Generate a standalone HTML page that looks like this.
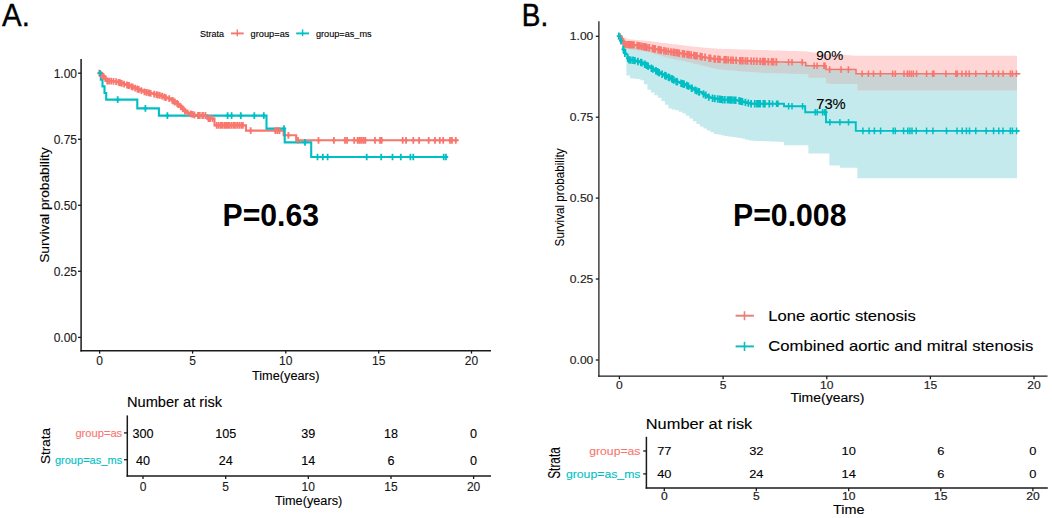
<!DOCTYPE html>
<html><head><meta charset="utf-8"><style>
html,body{margin:0;padding:0;background:#fff;width:1052px;height:518px;overflow:hidden}
svg{display:block}
text{font-family:"Liberation Sans", sans-serif}
</style></head><body>
<svg width="1052" height="518" viewBox="0 0 1052 518">
<rect width="1052" height="518" fill="#fff"/>
<text transform="translate(2.0,25.9) scale(0.95,1)" font-size="31" text-anchor="start" fill="#000" stroke="#000" stroke-width="0.35">A.</text>
<text x="200" y="36.9" font-size="9.3" text-anchor="start" fill="#000" stroke="#000" stroke-width="0.12" textLength="24" lengthAdjust="spacingAndGlyphs">Strata</text>
<path d="M231,33.4H243.7" stroke="#F8766D" stroke-width="1.9" fill="none" />
<path d="M237.3,29.4V36.2" stroke="#F8766D" stroke-width="1.4" fill="none" />
<text x="250.6" y="36.9" font-size="9.3" text-anchor="start" fill="#000" stroke="#000" stroke-width="0.12" textLength="38.8" lengthAdjust="spacingAndGlyphs">group=as</text>
<path d="M296.2,33.4H309" stroke="#00BFC4" stroke-width="1.9" fill="none" />
<path d="M302.6,29.4V36.2" stroke="#00BFC4" stroke-width="1.4" fill="none" />
<text x="315.9" y="36.9" font-size="9.3" text-anchor="start" fill="#000" stroke="#000" stroke-width="0.12" textLength="55.8" lengthAdjust="spacingAndGlyphs">group=as_ms</text>
<line x1="81.1" y1="59" x2="81.1" y2="351.4" stroke="#1a1a1a" stroke-width="1.5"/>
<line x1="80.4" y1="350.7" x2="491" y2="350.7" stroke="#1a1a1a" stroke-width="1.5"/>
<line x1="78.0" y1="73.2" x2="81.1" y2="73.2" stroke="#1a1a1a" stroke-width="1.3"/>
<text x="77.0" y="77.60000000000001" font-size="12" text-anchor="end" fill="#1a1a1a" stroke="#1a1a1a" stroke-width="0.12">1.00</text>
<line x1="78.0" y1="139.3" x2="81.1" y2="139.3" stroke="#1a1a1a" stroke-width="1.3"/>
<text x="77.0" y="143.70000000000002" font-size="12" text-anchor="end" fill="#1a1a1a" stroke="#1a1a1a" stroke-width="0.12">0.75</text>
<line x1="78.0" y1="205.3" x2="81.1" y2="205.3" stroke="#1a1a1a" stroke-width="1.3"/>
<text x="77.0" y="209.70000000000002" font-size="12" text-anchor="end" fill="#1a1a1a" stroke="#1a1a1a" stroke-width="0.12">0.50</text>
<line x1="78.0" y1="271.3" x2="81.1" y2="271.3" stroke="#1a1a1a" stroke-width="1.3"/>
<text x="77.0" y="275.7" font-size="12" text-anchor="end" fill="#1a1a1a" stroke="#1a1a1a" stroke-width="0.12">0.25</text>
<line x1="78.0" y1="337.4" x2="81.1" y2="337.4" stroke="#1a1a1a" stroke-width="1.3"/>
<text x="77.0" y="341.79999999999995" font-size="12" text-anchor="end" fill="#1a1a1a" stroke="#1a1a1a" stroke-width="0.12">0.00</text>
<line x1="99.6" y1="350.7" x2="99.6" y2="353.6" stroke="#1a1a1a" stroke-width="1.3"/>
<text x="99.6" y="364.7" font-size="12" text-anchor="middle" fill="#1a1a1a" stroke="#1a1a1a" stroke-width="0.12">0</text>
<line x1="192.6" y1="350.7" x2="192.6" y2="353.6" stroke="#1a1a1a" stroke-width="1.3"/>
<text x="192.6" y="364.7" font-size="12" text-anchor="middle" fill="#1a1a1a" stroke="#1a1a1a" stroke-width="0.12">5</text>
<line x1="285.8" y1="350.7" x2="285.8" y2="353.6" stroke="#1a1a1a" stroke-width="1.3"/>
<text x="285.8" y="364.7" font-size="12" text-anchor="middle" fill="#1a1a1a" stroke="#1a1a1a" stroke-width="0.12">10</text>
<line x1="378.7" y1="350.7" x2="378.7" y2="353.6" stroke="#1a1a1a" stroke-width="1.3"/>
<text x="378.7" y="364.7" font-size="12" text-anchor="middle" fill="#1a1a1a" stroke="#1a1a1a" stroke-width="0.12">15</text>
<line x1="471.5" y1="350.7" x2="471.5" y2="353.6" stroke="#1a1a1a" stroke-width="1.3"/>
<text x="471.5" y="364.7" font-size="12" text-anchor="middle" fill="#1a1a1a" stroke="#1a1a1a" stroke-width="0.12">20</text>
<text x="285.7" y="380.4" font-size="12.5" text-anchor="middle" fill="#000" stroke="#000" stroke-width="0.12" textLength="67.6" lengthAdjust="spacingAndGlyphs">Time(years)</text>
<text transform="translate(49.4,205.1) rotate(-90)" font-size="13.5" text-anchor="middle" fill="#000" stroke="#000" stroke-width="0.12" textLength="115.5" lengthAdjust="spacingAndGlyphs">Survival probability</text>
<text x="222.5" y="225.9" font-size="31.5" text-anchor="start" fill="#000" font-weight="bold" textLength="96.5" lengthAdjust="spacingAndGlyphs">P=0.63</text>
<path d="M99.6,73.2H101.6V74.9H103.6V76.7H105.6V79.1H107.6V81H109.6V81.1H111.6V81.3H113.6V81.4H115.6V81.5H117.6V82H119.6V82.7H121.6V83.3H123.6V83.9H125.6V84.6H127.6V85.2H129.6V85.9H131.6V86.6H133.6V87.4H135.6V88.2H137.6V89H139.6V89.8H141.6V90.6H143.6V91.4H145.6V92.1H147.6V92.6H149.6V93.1H151.6V93.5H153.6V94H155.6V94.5H157.6V94.9H159.6V95.4H161.6V96.1H163.6V96.8H165.6V97.5H167.6V98.2H169.6V98.9H171.6V100H173.6V101.2H175.6V102.4H177.6V103.9H179.6V105.7H181.6V107.6H183.6V109.8H185.6V112H187.6V112.9H189.6V113.5H191.6V114.1H193.6V114.8H195.6V115.4H197.6V115.5H199.6H201.6H203.6H205.6H207.3H207.3V118.6H214.5V125.4H246V130.6H283.6V135.3H296.2V140.3H458.7" stroke="#F8766D" stroke-width="2.1" fill="none" />
<path d="M99.6,73.2H100.8V79.8H102.5V86.4H104.5V93.0H106.2V99.6H137.3V108.4H158.9V115.6H266.5V128.6H284.7V142.4H311.2V157.0H446.6" stroke="#00BFC4" stroke-width="2.1" fill="none" />
<path d="M99.3,69.8V76.6M97.3,73.2H101.3M101.2,71.2V78M99.2,74.6H103.2M102.3,72.1V78.9M100.3,75.5H104.3M103.3,73V79.8M101.3,76.4H105.3M105.3,75.3V82.1M103.3,78.7H107.3M107.2,77.6V84.4M105.2,81H109.2M109.1,77.7V84.5M107.1,81.1H111.1M111.2,77.8V84.6M109.2,81.2H113.2M113.5,78V84.8M111.5,81.4H115.5M116.2,78.2V85M114.2,81.6H118.2M118.6,78.9V85.7M116.6,82.3H120.6M119.7,79.3V86.1M117.7,82.7H121.7M120.2,79.4V86.2M118.2,82.8H122.2M121.8,80V86.8M119.8,83.4H123.8M124.1,80.7V87.5M122.1,84.1H126.1M127,81.6V88.4M125,85H129M128.6,82.1V88.9M126.6,85.5H130.6M129.1,82.3V89.1M127.1,85.7H131.1M131.5,83.2V90M129.5,86.6H133.5M132.8,83.7V90.5M130.8,87.1H134.8M135.2,84.7V91.5M133.2,88.1H137.2M137.4,85.6V92.4M135.4,89H139.4M138.8,86.1V92.9M136.8,89.5H140.8M141.4,87.2V94M139.4,90.6H143.4M144.4,88.4V95.2M142.4,91.8H146.4M146.4,88.9V95.7M144.4,92.3H148.4M146.9,89V95.8M144.9,92.4H148.9M148.9,89.5V96.3M146.9,92.9H150.9M150.7,89.9V96.7M148.7,93.3H152.7M154.1,90.7V97.5M152.1,94.1H156.1M156.4,91.3V98.1M154.4,94.7H158.4M157.8,91.6V98.4M155.8,95H159.8M159.8,92V98.8M157.8,95.4H161.8M162.1,92.8V99.6M160.1,96.2H164.1M164.3,93.6V100.4M162.3,97H166.3M165.9,94.2V101M163.9,97.6H167.9M169.2,95.3V102.1M167.2,98.7H171.2M172.3,97V103.8M170.3,100.4H174.3M173.2,97.6V104.4M171.2,101H175.2M174.9,98.6V105.4M172.9,102H176.9M177.1,100V106.8M175.1,103.4H179.1M178.2,101.1V107.9M176.2,104.5H180.2M180.8,103.5V110.3M178.8,106.9H182.8M182.8,105.5V112.3M180.8,108.9H184.8M184.9,107.8V114.6M182.9,111.2H186.9M187.6,109.5V116.3M185.6,112.9H189.6M190.7,110.4V117.2M188.7,113.8H192.7M192.4,111V117.8M190.4,114.4H194.4M194.4,111.6V118.4M192.4,115H196.4M198,112.1V118.9M196,115.5H200M198.1,112.1V118.9M196.1,115.5H200.1M199.8,112.1V118.9M197.8,115.5H201.8M202.3,112.1V118.9M200.3,115.5H204.3M203,112.1V118.9M201,115.5H205M205.4,112.1V118.9M203.4,115.5H207.4M208.4,115.2V122M206.4,118.6H210.4M210.1,115.2V122M208.1,118.6H212.1M212.5,115.2V122M210.5,118.6H214.5M216.7,122V128.8M214.7,125.4H218.7M218.8,122V128.8M216.8,125.4H220.8M220.9,122V128.8M218.9,125.4H222.9M222.5,122V128.8M220.5,125.4H224.5M224.6,122V128.8M222.6,125.4H226.6M226.1,122V128.8M224.1,125.4H228.1M227.7,122V128.8M225.7,125.4H229.7M229.3,122V128.8M227.3,125.4H231.3M231.4,122V128.8M229.4,125.4H233.4M233.5,122V128.8M231.5,125.4H235.5M235,122V128.8M233,125.4H237M237.1,122V128.8M235.1,125.4H239.1M239.2,122V128.8M237.2,125.4H241.2M241.3,122V128.8M239.3,125.4H243.3M242.9,122V128.8M240.9,125.4H244.9M250.7,127.2V134M248.7,130.6H252.7M275.3,127.2V134M273.3,130.6H277.3M277.4,127.2V134M275.4,130.6H279.4M279.5,127.2V134M277.5,130.6H281.5M288.4,131.9V138.7M286.4,135.3H290.4M298,136.9V143.7M296,140.3H300M318.5,136.9V143.7M316.5,140.3H320.5M333.9,136.9V143.7M331.9,140.3H335.9M345,136.9V143.7M343,140.3H347M347,136.9V143.7M345,140.3H349M354.2,136.9V143.7M352.2,140.3H356.2M357.6,136.9V143.7M355.6,140.3H359.6M359.5,136.9V143.7M357.5,140.3H361.5M361.4,136.9V143.7M359.4,140.3H363.4M363.4,136.9V143.7M361.4,140.3H365.4M365.3,136.9V143.7M363.3,140.3H367.3M375,136.9V143.7M373,140.3H377M380,136.9V143.7M378,140.3H382M381.7,136.9V143.7M379.7,140.3H383.7M402.7,136.9V143.7M400.7,140.3H404.7M406,136.9V143.7M404,140.3H408M413.3,136.9V143.7M411.3,140.3H415.3M419.1,136.9V143.7M417.1,140.3H421.1M428.7,136.9V143.7M426.7,140.3H430.7M435,136.9V143.7M433,140.3H437M439.8,136.9V143.7M437.8,140.3H441.8M443.2,136.9V143.7M441.2,140.3H445.2M450,136.9V143.7M448,140.3H452M452,136.9V143.7M450,140.3H454M455.8,136.9V143.7M453.8,140.3H457.8" stroke="#F8766D" stroke-width="1.8" fill="none" />
<path d="M100,69.9V76.5M97.8,73.2H102.2M117.7,96.3V102.9M115.5,99.6H119.9M145.4,105.1V111.7M143.2,108.4H147.6M167.4,112.3V118.9M165.2,115.6H169.6M227.6,112.3V118.9M225.4,115.6H229.8M231.6,112.3V118.9M229.4,115.6H233.8M240.8,112.3V118.9M238.6,115.6H243M254.3,112.3V118.9M252.1,115.6H256.5M263.8,112.3V118.9M261.6,115.6H266M284,125.3V131.9M281.8,128.6H286.2M305,139.1V145.7M302.8,142.4H307.2M317.5,153.7V160.3M315.3,157H319.7M322.8,153.7V160.3M320.6,157H325M327.6,153.7V160.3M325.4,157H329.8M366.7,153.7V160.3M364.5,157H368.9M381.2,153.7V160.3M379,157H383.4M392.5,153.7V160.3M390.3,157H394.7M400.8,153.7V160.3M398.6,157H403M410.4,153.7V160.3M408.2,157H412.6M413.3,153.7V160.3M411.1,157H415.5M443.7,153.7V160.3M441.5,157H445.9M446,153.7V160.3M443.8,157H448.2" stroke="#00BFC4" stroke-width="1.8" fill="none" />
<text x="127.0" y="406.8" font-size="14.5" text-anchor="start" fill="#000" stroke="#000" stroke-width="0.12" textLength="95" lengthAdjust="spacingAndGlyphs">Number at risk</text>
<line x1="127.3" y1="415.4" x2="127.3" y2="476.7" stroke="#1a1a1a" stroke-width="1.5"/>
<line x1="126.6" y1="476" x2="491" y2="476" stroke="#1a1a1a" stroke-width="1.5"/>
<line x1="124.0" y1="432.9" x2="127.3" y2="432.9" stroke="#1a1a1a" stroke-width="1.3"/>
<line x1="124.0" y1="459.7" x2="127.3" y2="459.7" stroke="#1a1a1a" stroke-width="1.3"/>
<text x="122.2" y="436.9" font-size="11" text-anchor="end" fill="#F8766D" stroke="#F8766D" stroke-width="0.12" textLength="46.8" lengthAdjust="spacingAndGlyphs">group=as</text>
<text x="122.2" y="463.7" font-size="11" text-anchor="end" fill="#00BFC4" stroke="#00BFC4" stroke-width="0.12" textLength="67.3" lengthAdjust="spacingAndGlyphs">group=as_ms</text>
<text transform="translate(49.6,446.1) rotate(-90)" font-size="13.5" text-anchor="middle" fill="#000" stroke="#000" stroke-width="0.12" textLength="36" lengthAdjust="spacingAndGlyphs">Strata</text>
<text x="143" y="437.9" font-size="12.6" text-anchor="middle" fill="#000" stroke="#000" stroke-width="0.12">300</text>
<text x="143" y="464.9" font-size="12.6" text-anchor="middle" fill="#000" stroke="#000" stroke-width="0.12">40</text>
<line x1="143" y1="476" x2="143" y2="479" stroke="#1a1a1a" stroke-width="1.3"/>
<text x="143" y="490.6" font-size="12" text-anchor="middle" fill="#1a1a1a" stroke="#1a1a1a" stroke-width="0.12">0</text>
<text x="225.7" y="437.9" font-size="12.6" text-anchor="middle" fill="#000" stroke="#000" stroke-width="0.12">105</text>
<text x="225.7" y="464.9" font-size="12.6" text-anchor="middle" fill="#000" stroke="#000" stroke-width="0.12">24</text>
<line x1="225.7" y1="476" x2="225.7" y2="479" stroke="#1a1a1a" stroke-width="1.3"/>
<text x="225.7" y="490.6" font-size="12" text-anchor="middle" fill="#1a1a1a" stroke="#1a1a1a" stroke-width="0.12">5</text>
<text x="308.3" y="437.9" font-size="12.6" text-anchor="middle" fill="#000" stroke="#000" stroke-width="0.12">39</text>
<text x="308.3" y="464.9" font-size="12.6" text-anchor="middle" fill="#000" stroke="#000" stroke-width="0.12">14</text>
<line x1="308.3" y1="476" x2="308.3" y2="479" stroke="#1a1a1a" stroke-width="1.3"/>
<text x="308.3" y="490.6" font-size="12" text-anchor="middle" fill="#1a1a1a" stroke="#1a1a1a" stroke-width="0.12">10</text>
<text x="391" y="437.9" font-size="12.6" text-anchor="middle" fill="#000" stroke="#000" stroke-width="0.12">18</text>
<text x="391" y="464.9" font-size="12.6" text-anchor="middle" fill="#000" stroke="#000" stroke-width="0.12">6</text>
<line x1="391" y1="476" x2="391" y2="479" stroke="#1a1a1a" stroke-width="1.3"/>
<text x="391" y="490.6" font-size="12" text-anchor="middle" fill="#1a1a1a" stroke="#1a1a1a" stroke-width="0.12">15</text>
<text x="473.6" y="437.9" font-size="12.6" text-anchor="middle" fill="#000" stroke="#000" stroke-width="0.12">0</text>
<text x="473.6" y="464.9" font-size="12.6" text-anchor="middle" fill="#000" stroke="#000" stroke-width="0.12">0</text>
<line x1="473.6" y1="476" x2="473.6" y2="479" stroke="#1a1a1a" stroke-width="1.3"/>
<text x="473.6" y="490.6" font-size="12" text-anchor="middle" fill="#1a1a1a" stroke="#1a1a1a" stroke-width="0.12">20</text>
<text x="308.6" y="505.4" font-size="12.5" text-anchor="middle" fill="#000" stroke="#000" stroke-width="0.12" textLength="67.4" lengthAdjust="spacingAndGlyphs">Time(years)</text>
<text transform="translate(521.8,25.9) scale(0.9,1)" font-size="31" text-anchor="start" fill="#000" stroke="#000" stroke-width="0.5">B.</text>
<path d="M619.4,36.8L622.4,36.8L622.4,41.4L625.4,41.4L625.4,45.3L628.4,45.3L628.4,45.5L631.4,45.5L631.4,45.6L634.4,45.6L634.4,45.8L637.4,45.8L637.4,46.2L640.4,46.2L640.4,46.8L643.4,46.8L643.4,47.5L646.4,47.5L646.4,48.1L649.4,48.1L649.4,48.7L652.4,48.7L652.4,49.3L655.4,49.3L655.4,49.9L658.4,49.9L658.4,50.5L661.4,50.5L661.4,51.1L664.4,51.1L664.4,51.6L667.4,51.6L667.4,52.1L670.4,52.1L670.4,52.6L673.4,52.6L673.4,53.1L676.4,53.1L676.4,53.6L679.4,53.6L679.4,54L682.4,54L682.4,54.5L685.4,54.5L685.4,54.9L688.4,54.9L688.4,55.4L691.4,55.4L691.4,55.8L694.4,55.8L694.4,56.3L697.4,56.3L697.4,56.8L700.4,56.8L700.4,57.3L703.4,57.3L703.4,57.8L706.4,57.8L706.4,58.4L709.4,58.4L709.4,58.9L712.4,58.9L712.4,59.4L715.4,59.4L715.4,59.9L718.4,59.9L718.4,60.1L721.4,60.1L721.4,60.3L724.4,60.3L724.4,60.5L727.4,60.5L727.4,60.7L730.4,60.7L730.4,60.9L733.4,60.9L733.4,61.1L736.4,61.1L736.4,61.3L739.4,61.3L739.4,61.5L742.4,61.5L742.4,61.6L745.4,61.6L745.4,61.7L748.4,61.7L748.4,61.8L751.4,61.8L751.4,61.9L754.4,61.9L754.4,62L757.4,62L757.4,62.1L760.4,62.1L760.4,62.2L763.4,62.2L763.4,62.3L766.4,62.3L766.4,62.4L769.4,62.4L769.4,62.5L772.4,62.5L772.4,62.6L775.4,62.6L775.4,62.7L778.4,62.7L778.4,62.9L781.4,62.9L781.4,62.9L784.4,62.9L784.4,63L787.4,63L787.4,63L790.4,63L790.4,63L793.4,63L793.4,63.1L796.4,63.1L796.4,63.1L799.4,63.1L799.4,63.1L802.4,63.1L802.4,63.2L805.4,63.2L805.4,63.2L808.4,63.2L808.4,66.6L811.4,66.6L811.4,66.6L814.4,66.6L814.4,66.6L817.4,66.6L817.4,66.6L820.4,66.6L820.4,66.6L823.4,66.6L823.4,66.6L826.4,66.6L826.4,70.4L829.4,70.4L829.4,70.4L832.4,70.4L832.4,70.4L835.4,70.4L835.4,70.4L838.4,70.4L838.4,70.4L841.4,70.4L841.4,70.4L844.4,70.4L844.4,70.4L847.4,70.4L847.4,70.4L850.4,70.4L850.4,70.4L853.4,70.4L853.4,70.4L856.4,70.4L856.4,74.5L859.4,74.5L859.4,74.5L862.4,74.5L862.4,74.5L865.4,74.5L865.4,74.5L868.4,74.5L868.4,74.5L871.4,74.5L871.4,74.5L874.4,74.5L874.4,74.5L877.4,74.5L877.4,74.5L880.4,74.5L880.4,74.5L883.4,74.5L883.4,74.5L886.4,74.5L886.4,74.5L889.4,74.5L889.4,74.5L892.4,74.5L892.4,74.5L895.4,74.5L895.4,74.5L898.4,74.5L898.4,74.5L901.4,74.5L901.4,74.5L904.4,74.5L904.4,74.5L907.4,74.5L907.4,74.5L910.4,74.5L910.4,74.5L913.4,74.5L913.4,74.5L916.4,74.5L916.4,74.5L919.4,74.5L919.4,74.5L922.4,74.5L922.4,74.5L925.4,74.5L925.4,74.5L928.4,74.5L928.4,74.5L931.4,74.5L931.4,74.5L934.4,74.5L934.4,74.5L937.4,74.5L937.4,74.5L940.4,74.5L940.4,74.5L943.4,74.5L943.4,74.5L946.4,74.5L946.4,74.5L949.4,74.5L949.4,74.5L952.4,74.5L952.4,74.5L955.4,74.5L955.4,74.5L958.4,74.5L958.4,74.5L961.4,74.5L961.4,74.5L964.4,74.5L964.4,74.5L967.4,74.5L967.4,74.5L970.4,74.5L970.4,74.5L973.4,74.5L973.4,74.5L976.4,74.5L976.4,74.5L979.4,74.5L979.4,74.5L982.4,74.5L982.4,74.5L985.4,74.5L985.4,74.5L988.4,74.5L988.4,74.5L991.4,74.5L991.4,74.5L994.4,74.5L994.4,74.5L997.4,74.5L997.4,74.5L1000.4,74.5L1000.4,74.5L1003.4,74.5L1003.4,74.5L1006.4,74.5L1006.4,74.5L1009.4,74.5L1009.4,74.5L1012.4,74.5L1012.4,74.5L1015.4,74.5L1015.4,74.5L1017,74.5L1017,74.4L1017,178.2L1017,178.2L1014.9,178.2L1014.9,178.2L1011.4,178.2L1011.4,178.2L1007.9,178.2L1007.9,178.2L1004.4,178.2L1004.4,178.2L1000.9,178.2L1000.9,178.2L997.4,178.2L997.4,178.2L993.9,178.2L993.9,178.2L990.4,178.2L990.4,178.2L986.9,178.2L986.9,178.2L983.4,178.2L983.4,178.2L979.9,178.2L979.9,178.2L976.4,178.2L976.4,178.2L972.9,178.2L972.9,178.2L969.4,178.2L969.4,178.2L965.9,178.2L965.9,178.2L962.4,178.2L962.4,178.2L958.9,178.2L958.9,178.2L955.4,178.2L955.4,178.2L951.9,178.2L951.9,178.2L948.4,178.2L948.4,178.2L944.9,178.2L944.9,178.2L941.4,178.2L941.4,178.2L937.9,178.2L937.9,178.2L934.4,178.2L934.4,178.2L930.9,178.2L930.9,178.2L927.4,178.2L927.4,178.2L923.9,178.2L923.9,178.2L920.4,178.2L920.4,178.2L916.9,178.2L916.9,178.2L913.4,178.2L913.4,178.2L909.9,178.2L909.9,178.2L906.4,178.2L906.4,178.2L902.9,178.2L902.9,178.2L899.4,178.2L899.4,178.2L895.9,178.2L895.9,178.2L892.4,178.2L892.4,178.2L888.9,178.2L888.9,178.2L885.4,178.2L885.4,178.2L881.9,178.2L881.9,178.2L878.4,178.2L878.4,178.2L874.9,178.2L874.9,178.2L871.4,178.2L871.4,178.2L867.9,178.2L867.9,178.2L864.4,178.2L864.4,178.2L860.9,178.2L860.9,178.2L857.4,178.2L857.4,167.8L853.9,167.8L853.9,167.8L850.4,167.8L850.4,167.8L846.9,167.8L846.9,167.8L843.4,167.8L843.4,167.8L839.9,167.8L839.9,165.6L836.4,165.6L836.4,165.6L832.9,165.6L832.9,165.6L829.4,165.6L829.4,153.5L825.9,153.5L825.9,153.5L822.4,153.5L822.4,153.5L818.9,153.5L818.9,153.5L815.4,153.5L815.4,153.5L811.9,153.5L811.9,153.5L808.4,153.5L808.4,145.3L804.9,145.3L804.9,145.3L801.4,145.3L801.4,145.3L797.9,145.3L797.9,145.3L794.4,145.3L794.4,145.3L790.9,145.3L790.9,145.3L787.4,145.3L787.4,145.3L783.9,145.3L783.9,141.9L780.4,141.9L780.4,141.7L776.9,141.7L776.9,141.6L773.4,141.6L773.4,141.5L769.9,141.5L769.9,141.3L766.4,141.3L766.4,141.2L762.9,141.2L762.9,141L759.4,141L759.4,140.9L755.9,140.9L755.9,140.8L752.4,140.8L752.4,140.6L748.9,140.6L748.9,139.7L745.4,139.7L745.4,138.7L741.9,138.7L741.9,137.9L738.4,137.9L738.4,137.4L734.9,137.4L734.9,136.9L731.4,136.9L731.4,136.5L727.9,136.5L727.9,136L724.4,136L724.4,135.3L720.9,135.3L720.9,134.6L717.4,134.6L717.4,133.9L713.9,133.9L713.9,132.2L710.4,132.2L710.4,130.4L706.9,130.4L706.9,128.5L703.4,128.5L703.4,126.4L699.9,126.4L699.9,123.9L696.4,123.9L696.4,121.3L692.9,121.3L692.9,118.6L689.4,118.6L689.4,115.8L685.9,115.8L685.9,113.6L682.4,113.6L682.4,111.8L678.9,111.8L678.9,110.2L675.4,110.2L675.4,109.4L671.9,109.4L671.9,108.5L668.4,108.5L668.4,104.7L664.9,104.7L664.9,101L661.4,101L661.4,97.8L657.9,97.8L657.9,95.2L654.4,95.2L654.4,92.5L650.9,92.5L650.9,89.8L647.4,89.8L647.4,84.3L643.9,84.3L643.9,80.2L640.4,80.2L640.4,79.1L636.9,79.1L636.9,78.8L633.4,78.8L633.4,78.2L629.9,78.2L629.9,75.6L626.4,75.6L626.4,44.6L622.9,44.6L622.9,36L619.4,36Z" stroke="none" stroke-width="1" fill="#C4EAEE" />
<path d="M619.4,36L622.9,36L622.9,37.8L626.4,37.8L626.4,39.3L629.9,39.3L629.9,39.6L633.4,39.6L633.4,39.9L636.9,39.9L636.9,40.2L640.4,40.2L640.4,40.5L643.9,40.5L643.9,40.8L647.4,40.8L647.4,41.1L650.9,41.1L650.9,41.6L654.4,41.6L654.4,42L657.9,42L657.9,42.5L661.4,42.5L661.4,42.9L664.9,42.9L664.9,43.3L668.4,43.3L668.4,43.8L671.9,43.8L671.9,44.2L675.4,44.2L675.4,44.6L678.9,44.6L678.9,45.1L682.4,45.1L682.4,45.5L685.9,45.5L685.9,45.9L689.4,45.9L689.4,46.3L692.9,46.3L692.9,46.7L696.4,46.7L696.4,47L699.9,47L699.9,47.4L703.4,47.4L703.4,47.7L706.9,47.7L706.9,48L710.4,48L710.4,48.3L713.9,48.3L713.9,48.5L717.4,48.5L717.4,48.8L720.9,48.8L720.9,48.9L724.4,48.9L724.4,49L727.9,49L727.9,49.1L731.4,49.1L731.4,49.2L734.9,49.2L734.9,49.3L738.4,49.3L738.4,49.4L741.9,49.4L741.9,49.5L745.4,49.5L745.4,49.6L748.9,49.6L748.9,49.7L752.4,49.7L752.4,49.8L755.9,49.8L755.9,49.9L759.4,49.9L759.4,50L762.9,50L762.9,50.1L766.4,50.1L766.4,50.2L769.9,50.2L769.9,50.4L773.4,50.4L773.4,50.5L776.9,50.5L776.9,50.6L780.4,50.6L780.4,50.7L783.9,50.7L783.9,50.8L787.4,50.8L787.4,50.9L790.9,50.9L790.9,51L794.4,51L794.4,51.1L797.9,51.1L797.9,51.2L801.4,51.2L801.4,51.3L804.9,51.3L804.9,51.4L808.4,51.4L808.4,51.9L811.9,51.9L811.9,52.5L815.4,52.5L815.4,53.1L818.9,53.1L818.9,53.6L822.4,53.6L822.4,53.8L825.9,53.8L825.9,54L829.4,54L829.4,54.2L832.9,54.2L832.9,54.4L836.4,54.4L836.4,54.6L839.9,54.6L839.9,54.8L843.4,54.8L843.4,55L846.9,55L846.9,55.2L850.4,55.2L850.4,55.5L853.9,55.5L853.9,55.7L857.4,55.7L857.4,55.8L860.9,55.8L860.9,55.8L864.4,55.8L864.4,55.8L867.9,55.8L867.9,55.8L871.4,55.8L871.4,55.8L874.9,55.8L874.9,55.8L878.4,55.8L878.4,55.8L881.9,55.8L881.9,55.8L885.4,55.8L885.4,55.8L888.9,55.8L888.9,55.8L892.4,55.8L892.4,55.8L895.9,55.8L895.9,55.8L899.4,55.8L899.4,55.8L902.9,55.8L902.9,55.8L906.4,55.8L906.4,55.8L909.9,55.8L909.9,55.8L913.4,55.8L913.4,55.8L916.9,55.8L916.9,55.8L920.4,55.8L920.4,55.8L923.9,55.8L923.9,55.8L927.4,55.8L927.4,55.8L930.9,55.8L930.9,55.8L934.4,55.8L934.4,55.8L937.9,55.8L937.9,55.8L941.4,55.8L941.4,55.8L944.9,55.8L944.9,55.8L948.4,55.8L948.4,55.8L951.9,55.8L951.9,55.8L955.4,55.8L955.4,55.8L958.9,55.8L958.9,55.8L962.4,55.8L962.4,55.8L965.9,55.8L965.9,55.8L969.4,55.8L969.4,55.8L972.9,55.8L972.9,55.8L976.4,55.8L976.4,55.8L979.9,55.8L979.9,55.8L983.4,55.8L983.4,55.8L986.9,55.8L986.9,55.8L990.4,55.8L990.4,55.8L993.9,55.8L993.9,55.8L997.4,55.8L997.4,55.8L1000.9,55.8L1000.9,55.8L1004.4,55.8L1004.4,55.8L1007.9,55.8L1007.9,55.8L1011.4,55.8L1011.4,55.8L1014.9,55.8L1014.9,55.8L1017,55.8L1017,55.8L1017,90.5L1017,90.5L1014.9,90.5L1014.9,90.5L1011.4,90.5L1011.4,90.5L1007.9,90.5L1007.9,90.5L1004.4,90.5L1004.4,90.5L1000.9,90.5L1000.9,90.5L997.4,90.5L997.4,90.5L993.9,90.5L993.9,90.5L990.4,90.5L990.4,90.5L986.9,90.5L986.9,90.5L983.4,90.5L983.4,90.5L979.9,90.5L979.9,90.5L976.4,90.5L976.4,90.5L972.9,90.5L972.9,90.5L969.4,90.5L969.4,90.5L965.9,90.5L965.9,90.5L962.4,90.5L962.4,90.5L958.9,90.5L958.9,90.5L955.4,90.5L955.4,90.5L951.9,90.5L951.9,90.5L948.4,90.5L948.4,90.5L944.9,90.5L944.9,90.5L941.4,90.5L941.4,90.5L937.9,90.5L937.9,90.5L934.4,90.5L934.4,90.5L930.9,90.5L930.9,90.5L927.4,90.5L927.4,90.5L923.9,90.5L923.9,90.5L920.4,90.5L920.4,90.5L916.9,90.5L916.9,90.5L913.4,90.5L913.4,90.5L909.9,90.5L909.9,90.5L906.4,90.5L906.4,90.5L902.9,90.5L902.9,90.5L899.4,90.5L899.4,90.5L895.9,90.5L895.9,90.5L892.4,90.5L892.4,90.5L888.9,90.5L888.9,90.5L885.4,90.5L885.4,90.5L881.9,90.5L881.9,90.5L878.4,90.5L878.4,90.5L874.9,90.5L874.9,90.5L871.4,90.5L871.4,90.5L867.9,90.5L867.9,90.5L864.4,90.5L864.4,90.5L860.9,90.5L860.9,90.5L857.4,90.5L857.4,84L853.9,84L853.9,84L850.4,84L850.4,84L846.9,84L846.9,84L843.4,84L843.4,84L839.9,84L839.9,84L836.4,84L836.4,84L832.9,84L832.9,84L829.4,84L829.4,83.4L825.9,83.4L825.9,77.8L822.4,77.8L822.4,77.8L818.9,77.8L818.9,77.8L815.4,77.8L815.4,77.8L811.9,77.8L811.9,77.8L808.4,77.8L808.4,74.2L804.9,74.2L804.9,74.1L801.4,74.1L801.4,74L797.9,74L797.9,73.9L794.4,73.9L794.4,73.8L790.9,73.8L790.9,73.7L787.4,73.7L787.4,73.5L783.9,73.5L783.9,73.4L780.4,73.4L780.4,73.3L776.9,73.3L776.9,73.2L773.4,73.2L773.4,73.1L769.9,73.1L769.9,73L766.4,73L766.4,72.9L762.9,72.9L762.9,72.8L759.4,72.8L759.4,72.5L755.9,72.5L755.9,72.2L752.4,72.2L752.4,72L748.9,72L748.9,71.7L745.4,71.7L745.4,71.4L741.9,71.4L741.9,71.2L738.4,71.2L738.4,70.9L734.9,70.9L734.9,70.6L731.4,70.6L731.4,70.4L727.9,70.4L727.9,70.1L724.4,70.1L724.4,69.8L720.9,69.8L720.9,69.5L717.4,69.5L717.4,68.7L713.9,68.7L713.9,67.9L710.4,67.9L710.4,67.1L706.9,67.1L706.9,66.3L703.4,66.3L703.4,65.5L699.9,65.5L699.9,64.6L696.4,64.6L696.4,63.7L692.9,63.7L692.9,62.8L689.4,62.8L689.4,62L685.9,62L685.9,61.3L682.4,61.3L682.4,60.5L678.9,60.5L678.9,59.8L675.4,59.8L675.4,59.1L671.9,59.1L671.9,58.4L668.4,58.4L668.4,57.6L664.9,57.6L664.9,56.5L661.4,56.5L661.4,55.5L657.9,55.5L657.9,54.4L654.4,54.4L654.4,53.4L650.9,53.4L650.9,52.3L647.4,52.3L647.4,51.7L643.9,51.7L643.9,51.2L640.4,51.2L640.4,50.7L636.9,50.7L636.9,50.2L633.4,50.2L633.4,49.6L629.9,49.6L629.9,47.8L626.4,47.8L626.4,43.8L622.9,43.8L622.9,36L619.4,36Z" stroke="none" stroke-width="1" fill="#FDD6D5" />
<path d="M619.4,36.8L622.4,36.8L622.4,41.4L625.4,41.4L625.4,45.3L628.4,45.3L628.4,45.5L631.4,45.5L631.4,45.6L634.4,45.6L634.4,45.8L637.4,45.8L637.4,46.2L640.4,46.2L640.4,46.8L643.4,46.8L643.4,47.5L646.4,47.5L646.4,48.1L649.4,48.1L649.4,48.7L652.4,48.7L652.4,49.3L655.4,49.3L655.4,49.9L658.4,49.9L658.4,50.5L661.4,50.5L661.4,51.1L664.4,51.1L664.4,51.6L667.4,51.6L667.4,52.1L670.4,52.1L670.4,52.6L673.4,52.6L673.4,53.1L676.4,53.1L676.4,53.6L679.4,53.6L679.4,54L682.4,54L682.4,54.5L685.4,54.5L685.4,54.9L688.4,54.9L688.4,55.4L691.4,55.4L691.4,55.8L694.4,55.8L694.4,56.3L697.4,56.3L697.4,56.8L700.4,56.8L700.4,57.3L703.4,57.3L703.4,57.8L706.4,57.8L706.4,58.4L709.4,58.4L709.4,58.9L712.4,58.9L712.4,59.4L715.4,59.4L715.4,59.9L718.4,59.9L718.4,60.1L721.4,60.1L721.4,60.3L724.4,60.3L724.4,60.5L727.4,60.5L727.4,60.7L730.4,60.7L730.4,60.9L733.4,60.9L733.4,61.1L736.4,61.1L736.4,61.3L739.4,61.3L739.4,61.5L742.4,61.5L742.4,61.6L745.4,61.6L745.4,61.7L748.4,61.7L748.4,61.8L751.4,61.8L751.4,61.9L754.4,61.9L754.4,62L757.4,62L757.4,62.1L760.4,62.1L760.4,62.2L763.4,62.2L763.4,62.3L766.4,62.3L766.4,62.4L769.4,62.4L769.4,62.5L772.4,62.5L772.4,62.6L775.4,62.6L775.4,62.7L778.4,62.7L778.4,62.9L781.4,62.9L781.4,62.9L784.4,62.9L784.4,63L787.4,63L787.4,63L790.4,63L790.4,63L793.4,63L793.4,63.1L796.4,63.1L796.4,63.1L799.4,63.1L799.4,63.1L802.4,63.1L802.4,63.2L805.4,63.2L805.4,63.2L808.4,63.2L808.4,66.6L811.4,66.6L811.4,66.6L814.4,66.6L814.4,66.6L817.4,66.6L817.4,66.6L820.4,66.6L820.4,66.6L823.4,66.6L823.4,66.6L826.4,66.6L826.4,70.4L829.4,70.4L829.4,70.4L832.4,70.4L832.4,70.4L835.4,70.4L835.4,70.4L838.4,70.4L838.4,70.4L841.4,70.4L841.4,70.4L844.4,70.4L844.4,70.4L847.4,70.4L847.4,70.4L850.4,70.4L850.4,70.4L853.4,70.4L853.4,70.4L856.4,70.4L856.4,74.5L859.4,74.5L859.4,74.5L862.4,74.5L862.4,74.5L865.4,74.5L865.4,74.5L868.4,74.5L868.4,74.5L871.4,74.5L871.4,74.5L874.4,74.5L874.4,74.5L877.4,74.5L877.4,74.5L880.4,74.5L880.4,74.5L883.4,74.5L883.4,74.5L886.4,74.5L886.4,74.5L889.4,74.5L889.4,74.5L892.4,74.5L892.4,74.5L895.4,74.5L895.4,74.5L898.4,74.5L898.4,74.5L901.4,74.5L901.4,74.5L904.4,74.5L904.4,74.5L907.4,74.5L907.4,74.5L910.4,74.5L910.4,74.5L913.4,74.5L913.4,74.5L916.4,74.5L916.4,74.5L919.4,74.5L919.4,74.5L922.4,74.5L922.4,74.5L925.4,74.5L925.4,74.5L928.4,74.5L928.4,74.5L931.4,74.5L931.4,74.5L934.4,74.5L934.4,74.5L937.4,74.5L937.4,74.5L940.4,74.5L940.4,74.5L943.4,74.5L943.4,74.5L946.4,74.5L946.4,74.5L949.4,74.5L949.4,74.5L952.4,74.5L952.4,74.5L955.4,74.5L955.4,74.5L958.4,74.5L958.4,74.5L961.4,74.5L961.4,74.5L964.4,74.5L964.4,74.5L967.4,74.5L967.4,74.5L970.4,74.5L970.4,74.5L973.4,74.5L973.4,74.5L976.4,74.5L976.4,74.5L979.4,74.5L979.4,74.5L982.4,74.5L982.4,74.5L985.4,74.5L985.4,74.5L988.4,74.5L988.4,74.5L991.4,74.5L991.4,74.5L994.4,74.5L994.4,74.5L997.4,74.5L997.4,74.5L1000.4,74.5L1000.4,74.5L1003.4,74.5L1003.4,74.5L1006.4,74.5L1006.4,74.5L1009.4,74.5L1009.4,74.5L1012.4,74.5L1012.4,74.5L1015.4,74.5L1015.4,74.5L1017,74.5L1017,74.4L1017,90.5L1017,90.5L1014.9,90.5L1014.9,90.5L1011.4,90.5L1011.4,90.5L1007.9,90.5L1007.9,90.5L1004.4,90.5L1004.4,90.5L1000.9,90.5L1000.9,90.5L997.4,90.5L997.4,90.5L993.9,90.5L993.9,90.5L990.4,90.5L990.4,90.5L986.9,90.5L986.9,90.5L983.4,90.5L983.4,90.5L979.9,90.5L979.9,90.5L976.4,90.5L976.4,90.5L972.9,90.5L972.9,90.5L969.4,90.5L969.4,90.5L965.9,90.5L965.9,90.5L962.4,90.5L962.4,90.5L958.9,90.5L958.9,90.5L955.4,90.5L955.4,90.5L951.9,90.5L951.9,90.5L948.4,90.5L948.4,90.5L944.9,90.5L944.9,90.5L941.4,90.5L941.4,90.5L937.9,90.5L937.9,90.5L934.4,90.5L934.4,90.5L930.9,90.5L930.9,90.5L927.4,90.5L927.4,90.5L923.9,90.5L923.9,90.5L920.4,90.5L920.4,90.5L916.9,90.5L916.9,90.5L913.4,90.5L913.4,90.5L909.9,90.5L909.9,90.5L906.4,90.5L906.4,90.5L902.9,90.5L902.9,90.5L899.4,90.5L899.4,90.5L895.9,90.5L895.9,90.5L892.4,90.5L892.4,90.5L888.9,90.5L888.9,90.5L885.4,90.5L885.4,90.5L881.9,90.5L881.9,90.5L878.4,90.5L878.4,90.5L874.9,90.5L874.9,90.5L871.4,90.5L871.4,90.5L867.9,90.5L867.9,90.5L864.4,90.5L864.4,90.5L860.9,90.5L860.9,90.5L857.4,90.5L857.4,84L853.9,84L853.9,84L850.4,84L850.4,84L846.9,84L846.9,84L843.4,84L843.4,84L839.9,84L839.9,84L836.4,84L836.4,84L832.9,84L832.9,84L829.4,84L829.4,83.4L825.9,83.4L825.9,77.8L822.4,77.8L822.4,77.8L818.9,77.8L818.9,77.8L815.4,77.8L815.4,77.8L811.9,77.8L811.9,77.8L808.4,77.8L808.4,74.2L804.9,74.2L804.9,74.1L801.4,74.1L801.4,74L797.9,74L797.9,73.9L794.4,73.9L794.4,73.8L790.9,73.8L790.9,73.7L787.4,73.7L787.4,73.5L783.9,73.5L783.9,73.4L780.4,73.4L780.4,73.3L776.9,73.3L776.9,73.2L773.4,73.2L773.4,73.1L769.9,73.1L769.9,73L766.4,73L766.4,72.9L762.9,72.9L762.9,72.8L759.4,72.8L759.4,72.5L755.9,72.5L755.9,72.2L752.4,72.2L752.4,72L748.9,72L748.9,71.7L745.4,71.7L745.4,71.4L741.9,71.4L741.9,71.2L738.4,71.2L738.4,70.9L734.9,70.9L734.9,70.6L731.4,70.6L731.4,70.4L727.9,70.4L727.9,70.1L724.4,70.1L724.4,69.8L720.9,69.8L720.9,69.5L717.4,69.5L717.4,68.7L713.9,68.7L713.9,67.9L710.4,67.9L710.4,67.1L706.9,67.1L706.9,66.3L703.4,66.3L703.4,65.5L699.9,65.5L699.9,64.6L696.4,64.6L696.4,63.7L692.9,63.7L692.9,62.8L689.4,62.8L689.4,62L685.9,62L685.9,61.3L682.4,61.3L682.4,60.5L678.9,60.5L678.9,59.8L675.4,59.8L675.4,59.1L671.9,59.1L671.9,58.4L668.4,58.4L668.4,57.6L664.9,57.6L664.9,56.5L661.4,56.5L661.4,55.5L657.9,55.5L657.9,54.4L654.4,54.4L654.4,53.4L650.9,53.4L650.9,52.3L647.4,52.3L647.4,51.7L643.9,51.7L643.9,51.2L640.4,51.2L640.4,50.7L636.9,50.7L636.9,50.2L633.4,50.2L633.4,49.6L629.9,49.6L629.9,47.8L626.4,47.8L626.4,43.8L622.9,43.8L622.9,36L619.4,36Z" stroke="none" stroke-width="1" fill="#CAD3D4" />
<path d="M619.4,36H621.4V39.1H623.4V42.2H625.4V44.5H627.4V44.6H629.4V44.7H631.4V44.8H633.4V44.9H635.4V45H637.4V45.4H639.4V45.8H641.4V46.2H643.4V46.7H645.4V47.1H647.4V47.5H649.4V47.9H651.4V48.3H653.4V48.7H655.4V49.1H657.4V49.5H659.4V49.9H661.4V50.3H663.4V50.6H665.4V51H667.4V51.3H669.4V51.6H671.4V52H673.4V52.3H675.4V52.6H677.4V52.9H679.4V53.2H681.4V53.5H683.4V53.8H685.4V54.1H687.4V54.4H689.4V54.7H691.4V55H693.4V55.3H695.4V55.6H697.4V56H699.4V56.3H701.4V56.7H703.4V57H705.4V57.4H707.4V57.7H709.4V58.1H711.4V58.5H713.4V58.8H715.4V59.1H717.4V59.2H719.4V59.3H721.4V59.5H723.4V59.6H725.4V59.7H727.4V59.9H729.4V60H731.4V60.1H733.4V60.3H735.4V60.4H737.4V60.5H739.4V60.7H741.4V60.8H743.4V60.8H745.4V60.9H747.4V61H749.4V61H751.4V61.1H753.4V61.2H755.4V61.2H757.4V61.3H759.4V61.4H761.4V61.5H763.4V61.5H765.4V61.6H767.4V61.7H769.4V61.7H771.4V61.8H773.4V61.9H775.4V61.9H777.4V62H779.4V62.1H781.4V62.1H783.4V62.1H785.4V62.2H787.4V62.2H789.4V62.2H791.4V62.2H793.4V62.3H795.4V62.3H797.4V62.3H799.4V62.3H801.4V62.4H803.4V62.4H805.4V62.4H805.7H805.7V65.8H826V69.6H856V73.7H1020.4" stroke="#E9796F" stroke-width="1.5" fill="none" />
<path d="M619.4,36.1H621.4V42.1H623.4V49.6H625.4V54.1H627.4V57.7H629.4V60H631.4V60.1H633.4V60.3H635.4V60.7H637.4V61.3H639.4V62H641.4V62.6H643.4V63.6H645.4V64.7H647.4V65.9H649.4V67.1H651.4V68.3H653.4V69.4H655.4V70.5H657.4V71.7H659.4V72.8H661.4V73.9H663.4V74.8H665.4V75.7H667.4V76.6H669.4V77.5H671.4V78.5H673.4V79.8H675.4V81H677.4V81.9H679.4V82.6H681.4V83.3H683.4V83.9H685.4V84.6H687.4V85.7H689.4V86.8H691.4V88H693.4V89.1H695.4V90.2H697.4V91.2H699.4V92H701.4V92.8H703.4V94H705.4V95.1H707.4V96.3H709.4V97.5H711.4V98H713.4V98.3H715.4V98.7H717.4V98.9H719.4V99.2H721.4V99.5H723.4V99.7H725.4V99.8H727.4V99.9H729.4V99.9H731.4V100H733.4V100.1H735.4V100.1H737.4V100.3H739.4V100.8H741.4V101.4H743.4V101.9H745.4V102.4H747.4V102.9H749.4V103.3H751.4V103.7H753.4H755.4H757.4H759.4H761.4H763.4H765.4H767.4H769.4H771.4H773.4H775.4H777.4H779.4H781.4H783.4H784V106.3H805.2V112.3H826V122.3H855.8V130.9H1019.7" stroke="#00BFC4" stroke-width="1.9" fill="none" />
<path d="M620,33.3V40.7M618,37H622M622.3,36.9V44.3M620.3,40.6H624.3M623.9,39.4V46.8M621.9,43.1H625.9M625.2,40.8V48.2M623.2,44.5H627.2M627.2,40.9V48.3M625.2,44.6H629.2M628.7,41V48.4M626.7,44.7H630.7M630.2,41.1V48.5M628.2,44.8H632.2M630.8,41.1V48.5M628.8,44.8H632.8M632.3,41.2V48.6M630.3,44.9H634.3M633.9,41.2V48.6M631.9,44.9H635.9M637.3,41.7V49.1M635.3,45.4H639.3M638.1,41.9V49.3M636.1,45.6H640.1M639.9,42.2V49.6M637.9,45.9H641.9M641.9,42.7V50.1M639.9,46.4H643.9M644,43.1V50.5M642,46.8H646M645.3,43.3V50.7M643.3,47H647.3M646.9,43.7V51.1M644.9,47.4H648.9M649.2,44.1V51.5M647.2,47.8H651.2M649.3,44.2V51.6M647.3,47.9H651.3M652.7,44.8V52.2M650.7,48.5H654.7M654,45.1V52.5M652,48.8H656M655.1,45.3V52.7M653.1,49H657.1M658.3,46V53.4M656.3,49.7H660.3M659.6,46.2V53.6M657.6,49.9H661.6M661.1,46.5V53.9M659.1,50.2H663.1M664,47V54.4M662,50.7H666M666,47.4V54.8M664,51.1H668M668.3,47.7V55.1M666.3,51.4H670.3M671,48.2V55.6M669,51.9H673M673.3,48.6V56M671.3,52.3H675.3M674.7,48.8V56.2M672.7,52.5H676.7M676.8,49.1V56.5M674.8,52.8H678.8M677.4,49.2V56.6M675.4,52.9H679.4M679.3,49.5V56.9M677.3,53.2H681.3M682.6,50V57.4M680.6,53.7H684.6M684.4,50.3V57.7M682.4,54H686.4M687.1,50.7V58.1M685.1,54.4H689.1M687.6,50.8V58.2M685.6,54.5H689.6M689,51V58.4M687,54.7H691M691.1,51.3V58.7M689.1,55H693.1M694,51.7V59.1M692,55.4H696M695.5,52V59.4M693.5,55.7H697.5M697,52.2V59.6M695,55.9H699M700.5,52.8V60.2M698.5,56.5H702.5M700.4,52.8V60.2M698.4,56.5H702.4M701.9,53.1V60.5M699.9,56.8H703.9M705.1,53.6V61M703.1,57.3H707.1M709.2,54.4V61.8M707.2,58.1H711.2M710.5,54.6V62M708.5,58.3H712.5M714.3,55.3V62.7M712.3,59H716.3M715.1,55.3V62.7M713.1,59H717.1M718,55.5V62.9M716,59.2H720M719.9,55.7V63.1M717.9,59.4H721.9M724.3,56V63.4M722.3,59.7H726.3M726,56.1V63.5M724,59.8H728M728.2,56.2V63.6M726.2,59.9H730.2M730.9,56.4V63.8M728.9,60.1H732.9M733,56.5V63.9M731,60.2H735M736.1,56.7V64.1M734.1,60.4H738.1M739.9,57V64.4M737.9,60.7H741.9M740.8,57V64.4M738.8,60.7H742.8M742.8,57.1V64.5M740.8,60.8H744.8M745.4,57.2V64.6M743.4,60.9H747.4M747.5,57.3V64.7M745.5,61H749.5M751.1,57.4V64.8M749.1,61.1H753.1M753.8,57.5V64.9M751.8,61.2H755.8M756.8,57.6V65M754.8,61.3H758.8M760.2,57.7V65.1M758.2,61.4H762.2M762.7,57.8V65.2M760.7,61.5H764.7M764,57.8V65.2M762,61.5H766M765,57.9V65.3M763,61.6H767M768.3,58V65.4M766.3,61.7H770.3M771.6,58.1V65.5M769.6,61.8H773.6M773.5,58.2V65.6M771.5,61.9H775.5M776.3,58.3V65.7M774.3,62H778.3" stroke="#F8766D" stroke-width="1.8" fill="none" />
<path d="M788.6,58.9V65.5M786.8,62.2H790.4M792,58.9V65.5M790.2,62.2H793.8M802.2,59.1V65.7M800.4,62.4H804M814.2,62.5V69.1M812.4,65.8H816M817.1,62.5V69.1M815.3,65.8H818.9M823.9,62.5V69.1M822.1,65.8H825.7M825,62.5V69.1M823.2,65.8H826.8M829.6,66.3V72.9M827.8,69.6H831.4M841,66.3V72.9M839.2,69.6H842.8M848.4,66.3V72.9M846.6,69.6H850.2M862.1,70.4V77M860.3,73.7H863.9M868.4,70.4V77M866.6,73.7H870.2M873.5,70.4V77M871.7,73.7H875.3M880.4,70.4V77M878.6,73.7H882.2M892.7,70.4V77M890.9,73.7H894.5M895.3,70.4V77M893.5,73.7H897.1M904,70.4V77M902.2,73.7H905.8M907.3,70.4V77M905.5,73.7H909.1M909.3,70.4V77M907.5,73.7H911.1M911.3,70.4V77M909.5,73.7H913.1M913.3,70.4V77M911.5,73.7H915.1M916.6,70.4V77M914.8,73.7H918.4M926.6,70.4V77M924.8,73.7H928.4M932.6,70.4V77M930.8,73.7H934.4M933.9,70.4V77M932.1,73.7H935.7M945.9,70.4V77M944.1,73.7H947.7M955.9,70.4V77M954.1,73.7H957.7M957.2,70.4V77M955.4,73.7H959M961.9,70.4V77M960.1,73.7H963.7M965.9,70.4V77M964.1,73.7H967.7M969.2,70.4V77M967.4,73.7H971M975.8,70.4V77M974,73.7H977.6M986.5,70.4V77M984.7,73.7H988.3M993.1,70.4V77M991.3,73.7H994.9M998.5,70.4V77M996.7,73.7H1000.3M1003.1,70.4V77M1001.3,73.7H1004.9M1010.4,70.4V77M1008.6,73.7H1012.2M1012.4,70.4V77M1010.6,73.7H1014.2M1016.4,70.4V77M1014.6,73.7H1018.2" stroke="#F8766D" stroke-width="1.5" fill="none" />
<path d="M618.8,32.4V39.8M616.8,36.1H620.8M621,37.2V44.6M619,40.9H623M623.4,45.7V53.1M621.4,49.4H625.4M624.9,49.5V56.9M622.9,53.2H626.9M627.8,54.7V62.1M625.8,58.4H629.8M629.1,56.2V63.6M627.1,59.9H631.1M630.8,56.4V63.8M628.8,60.1H632.8M633,56.6V64M631,60.3H635M634.9,56.9V64.3M632.9,60.6H636.9M637.9,57.8V65.2M635.9,61.5H639.9M640.8,58.7V66.1M638.8,62.4H642.8M641.7,59V66.4M639.7,62.7H643.7M644.7,60.6V68M642.7,64.3H646.7M644.9,60.7V68.1M642.9,64.4H646.9M646.6,61.7V69.1M644.6,65.4H648.6M648.1,62.6V70M646.1,66.3H650.1M651.4,64.5V71.9M649.4,68.2H653.4M652.9,65.4V72.8M650.9,69.1H654.9M655.9,67.1V74.5M653.9,70.8H657.9M657.6,68.1V75.5M655.6,71.8H659.6M659.2,69V76.4M657.2,72.7H661.2M662.1,70.5V77.9M660.1,74.2H664.1M664.9,71.8V79.2M662.9,75.5H666.9M666,72.3V79.7M664,76H668M668.4,73.4V80.8M666.4,77.1H670.4M669.5,73.9V81.3M667.5,77.6H671.5M671.9,75.1V82.5M669.9,78.8H673.9M672.8,75.7V83.1M670.8,79.4H674.8M673.7,76.3V83.7M671.7,80H675.7M676.3,77.8V85.2M674.3,81.5H678.3M677.3,78.2V85.6M675.3,81.9H679.3M681.1,79.5V86.9M679.1,83.2H683.1M682.7,80V87.4M680.7,83.7H684.7M684.1,80.5V87.9M682.1,84.2H686.1M686.8,81.7V89.1M684.8,85.4H688.8M688.4,82.6V90M686.4,86.3H690.4M691.5,84.4V91.8M689.5,88.1H693.5M692,84.6V92M690,88.3H694M695.2,86.4V93.8M693.2,90.1H697.2M696.7,87.2V94.6M694.7,90.9H698.7M698.8,88.1V95.5M696.8,91.8H700.8M699.3,88.3V95.7M697.3,92H701.3M703.5,90.3V97.7M701.5,94H705.5M705.7,91.6V99M703.7,95.3H707.7M708.8,93.4V100.8M706.8,97.1H710.8M712.6,94.5V101.9M710.6,98.2H714.6M714.8,94.9V102.3M712.8,98.6H716.8M717.7,95.3V102.7M715.7,99H719.7M719.8,95.6V103M717.8,99.3H721.8M721,95.7V103.1M719,99.4H723M722.6,96V103.4M720.6,99.7H724.6M724.8,96.1V103.5M722.8,99.8H726.8M727.5,96.2V103.6M725.5,99.9H729.5M729.1,96.2V103.6M727.1,99.9H731.1M730.6,96.3V103.7M728.6,100H732.6M731.9,96.3V103.7M729.9,100H733.9M734,96.4V103.8M732,100.1H736M735.7,96.5V103.9M733.7,100.2H737.7M739.2,97.1V104.5M737.2,100.8H741.2M740.7,97.5V104.9M738.7,101.2H742.7M742.4,97.9V105.3M740.4,101.6H744.4M745.4,98.7V106.1M743.4,102.4H747.4M748.3,99.4V106.8M746.3,103.1H750.3M751.1,100V107.4M749.1,103.7H753.1M754.8,100V107.4M752.8,103.7H756.8M757,100V107.4M755,103.7H759M758.6,100V107.4M756.6,103.7H760.6M760.2,100V107.4M758.2,103.7H762.2M763.4,100V107.4M761.4,103.7H765.4M764.9,100V107.4M762.9,103.7H766.9M769.3,100V107.4M767.3,103.7H771.3" stroke="#00BFC4" stroke-width="1.8" fill="none" />
<path d="M772.6,100.4V107M770.8,103.7H774.4M776.6,100.4V107M774.8,103.7H778.4M778,100.4V107M776.2,103.7H779.8M788.6,103V109.6M786.8,106.3H790.4M792,103V109.6M790.2,106.3H793.8M802.6,103V109.6M800.8,106.3H804.4M815.2,109V115.6M813.4,112.3H817M817.2,109V115.6M815.4,112.3H819M822.6,109V115.6M820.8,112.3H824.4M824.5,109V115.6M822.7,112.3H826.3M825.9,109V115.6M824.1,112.3H827.7M829.9,119V125.6M828.1,122.3H831.7M839.9,119V125.6M838.1,122.3H841.7M848.5,119V125.6M846.7,122.3H850.3M862.9,127.6V134.2M861.1,130.9H864.7M869.1,127.6V134.2M867.3,130.9H870.9M874.4,127.6V134.2M872.6,130.9H876.2M880.6,127.6V134.2M878.8,130.9H882.4M893.2,127.6V134.2M891.4,130.9H895M895.3,127.6V134.2M893.5,130.9H897.1M903.6,127.6V134.2M901.8,130.9H905.4M907.8,127.6V134.2M906,130.9H909.6M909.9,127.6V134.2M908.1,130.9H911.7M912,127.6V134.2M910.2,130.9H913.8M916.2,127.6V134.2M914.4,130.9H918M926.6,127.6V134.2M924.8,130.9H928.4M932.9,127.6V134.2M931.1,130.9H934.7M946.5,127.6V134.2M944.7,130.9H948.3M957,127.6V134.2M955.2,130.9H958.8M962.2,127.6V134.2M960.4,130.9H964M966.4,127.6V134.2M964.6,130.9H968.2M969.5,127.6V134.2M967.7,130.9H971.3M975.8,127.6V134.2M974,130.9H977.6M986.2,127.6V134.2M984.4,130.9H988M993.6,127.6V134.2M991.8,130.9H995.4M998.8,127.6V134.2M997,130.9H1000.6M1003,127.6V134.2M1001.2,130.9H1004.8M1010.3,127.6V134.2M1008.5,130.9H1012.1M1012.4,127.6V134.2M1010.6,130.9H1014.2M1016.6,127.6V134.2M1014.8,130.9H1018.4" stroke="#00BFC4" stroke-width="1.5" fill="none" />
<line x1="598.9" y1="21.2" x2="598.9" y2="376.7" stroke="#1a1a1a" stroke-width="1.25"/>
<line x1="598.2" y1="376.1" x2="1047.5" y2="376.1" stroke="#1a1a1a" stroke-width="1.25"/>
<line x1="595.8" y1="36.3" x2="598.9" y2="36.3" stroke="#1a1a1a" stroke-width="1.3"/>
<text transform="translate(593.3,40.3) scale(1.15,1)" font-size="10.5" text-anchor="end" fill="#222" stroke="#222" stroke-width="0.15">1.00</text>
<line x1="595.8" y1="117.2" x2="598.9" y2="117.2" stroke="#1a1a1a" stroke-width="1.3"/>
<text transform="translate(593.3,121.2) scale(1.15,1)" font-size="10.5" text-anchor="end" fill="#222" stroke="#222" stroke-width="0.15">0.75</text>
<line x1="595.8" y1="198.1" x2="598.9" y2="198.1" stroke="#1a1a1a" stroke-width="1.3"/>
<text transform="translate(593.3,202.1) scale(1.15,1)" font-size="10.5" text-anchor="end" fill="#222" stroke="#222" stroke-width="0.15">0.50</text>
<line x1="595.8" y1="279" x2="598.9" y2="279" stroke="#1a1a1a" stroke-width="1.3"/>
<text transform="translate(593.3,283.0) scale(1.15,1)" font-size="10.5" text-anchor="end" fill="#222" stroke="#222" stroke-width="0.15">0.25</text>
<line x1="595.8" y1="360" x2="598.9" y2="360" stroke="#1a1a1a" stroke-width="1.3"/>
<text transform="translate(593.3,364.0) scale(1.15,1)" font-size="10.5" text-anchor="end" fill="#222" stroke="#222" stroke-width="0.15">0.00</text>
<line x1="619.4" y1="376.1" x2="619.4" y2="379.2" stroke="#1a1a1a" stroke-width="1.3"/>
<text transform="translate(619.4,388.5) scale(1.15,1)" font-size="10.5" text-anchor="middle" fill="#222" stroke="#222" stroke-width="0.15">0</text>
<line x1="723.1" y1="376.1" x2="723.1" y2="379.2" stroke="#1a1a1a" stroke-width="1.3"/>
<text transform="translate(723.1,388.5) scale(1.15,1)" font-size="10.5" text-anchor="middle" fill="#222" stroke="#222" stroke-width="0.15">5</text>
<line x1="826.8" y1="376.1" x2="826.8" y2="379.2" stroke="#1a1a1a" stroke-width="1.3"/>
<text transform="translate(826.8,388.5) scale(1.15,1)" font-size="10.5" text-anchor="middle" fill="#222" stroke="#222" stroke-width="0.15">10</text>
<line x1="930.4" y1="376.1" x2="930.4" y2="379.2" stroke="#1a1a1a" stroke-width="1.3"/>
<text transform="translate(930.4,388.5) scale(1.15,1)" font-size="10.5" text-anchor="middle" fill="#222" stroke="#222" stroke-width="0.15">15</text>
<line x1="1034" y1="376.1" x2="1034" y2="379.2" stroke="#1a1a1a" stroke-width="1.3"/>
<text transform="translate(1034,388.5) scale(1.15,1)" font-size="10.5" text-anchor="middle" fill="#222" stroke="#222" stroke-width="0.15">20</text>
<text x="827.5" y="401.5" font-size="12" text-anchor="middle" fill="#000" stroke="#000" stroke-width="0.12" textLength="74" lengthAdjust="spacingAndGlyphs">Time(years)</text>
<text transform="translate(563.5,197.4) rotate(-90)" font-size="13.5" text-anchor="middle" fill="#000" stroke="#000" stroke-width="0.1" textLength="98" lengthAdjust="spacingAndGlyphs">Survival probability</text>
<text x="733" y="225.9" font-size="31.5" text-anchor="start" fill="#000" font-weight="bold" textLength="113.5" lengthAdjust="spacingAndGlyphs">P=0.008</text>
<text x="816.3" y="59.9" font-size="12.6" text-anchor="start" fill="#000" stroke="#000" stroke-width="0.1" textLength="27" lengthAdjust="spacingAndGlyphs">90%</text>
<text x="816.2" y="108.8" font-size="13.8" text-anchor="start" fill="#000" stroke="#000" stroke-width="0.1" textLength="29.5" lengthAdjust="spacingAndGlyphs">73%</text>
<path d="M735.6,315.7H753.9" stroke="#EC7F77" stroke-width="2.0" fill="none" />
<path d="M744.5,311.2V320.2" stroke="#EC7F77" stroke-width="1.6" fill="none" />
<path d="M735.6,346.4H753.9" stroke="#13BBC0" stroke-width="2.0" fill="none" />
<path d="M744.5,341.8V351" stroke="#13BBC0" stroke-width="1.6" fill="none" />
<text x="768.3" y="320.8" font-size="14.3" text-anchor="start" fill="#000" stroke="#000" stroke-width="0.12" textLength="147.5" lengthAdjust="spacingAndGlyphs">Lone aortic stenosis</text>
<text x="768.3" y="351.0" font-size="14.3" text-anchor="start" fill="#000" stroke="#000" stroke-width="0.12" textLength="265" lengthAdjust="spacingAndGlyphs">Combined aortic and mitral stenosis</text>
<text x="645.8" y="429.2" font-size="14" text-anchor="start" fill="#000" stroke="#000" stroke-width="0.1" textLength="106.5" lengthAdjust="spacingAndGlyphs">Number at risk</text>
<line x1="646.4" y1="436.8" x2="646.4" y2="488.7" stroke="#1a1a1a" stroke-width="1.5"/>
<line x1="645.7" y1="488.0" x2="1047.8" y2="488.0" stroke="#1a1a1a" stroke-width="1.5"/>
<line x1="643.2" y1="451" x2="646.4" y2="451" stroke="#1a1a1a" stroke-width="1.3"/>
<line x1="643.2" y1="473.9" x2="646.4" y2="473.9" stroke="#1a1a1a" stroke-width="1.3"/>
<text x="640.5" y="454.8" font-size="10.8" text-anchor="end" fill="#F8766D" stroke="#F8766D" stroke-width="0.1" textLength="51.3" lengthAdjust="spacingAndGlyphs">group=as</text>
<text x="640.5" y="477.7" font-size="10.8" text-anchor="end" fill="#00BFC4" stroke="#00BFC4" stroke-width="0.1" textLength="74.6" lengthAdjust="spacingAndGlyphs">group=as_ms</text>
<text transform="translate(560.0,463.0) rotate(-90)" font-size="16.5" text-anchor="middle" fill="#000" stroke="#000" stroke-width="0.1" textLength="31.5" lengthAdjust="spacingAndGlyphs">Strata</text>
<text transform="translate(664.3,455.1) scale(1.15,1)" font-size="11.2" text-anchor="middle" fill="#000" stroke="#000" stroke-width="0.1">77</text>
<text transform="translate(664.3,478.3) scale(1.15,1)" font-size="11.2" text-anchor="middle" fill="#000" stroke="#000" stroke-width="0.1">40</text>
<line x1="664.3" y1="488.0" x2="664.3" y2="491.2" stroke="#1a1a1a" stroke-width="1.3"/>
<text transform="translate(664.3,500.4) scale(1.15,1)" font-size="10.5" text-anchor="middle" fill="#222" stroke="#222" stroke-width="0.2">0</text>
<text transform="translate(756.3,455.1) scale(1.15,1)" font-size="11.2" text-anchor="middle" fill="#000" stroke="#000" stroke-width="0.1">32</text>
<text transform="translate(756.3,478.3) scale(1.15,1)" font-size="11.2" text-anchor="middle" fill="#000" stroke="#000" stroke-width="0.1">24</text>
<line x1="756.3" y1="488.0" x2="756.3" y2="491.2" stroke="#1a1a1a" stroke-width="1.3"/>
<text transform="translate(756.3,500.4) scale(1.15,1)" font-size="10.5" text-anchor="middle" fill="#222" stroke="#222" stroke-width="0.2">5</text>
<text transform="translate(848.7,455.1) scale(1.15,1)" font-size="11.2" text-anchor="middle" fill="#000" stroke="#000" stroke-width="0.1">10</text>
<text transform="translate(848.7,478.3) scale(1.15,1)" font-size="11.2" text-anchor="middle" fill="#000" stroke="#000" stroke-width="0.1">14</text>
<line x1="848.7" y1="488.0" x2="848.7" y2="491.2" stroke="#1a1a1a" stroke-width="1.3"/>
<text transform="translate(848.7,500.4) scale(1.15,1)" font-size="10.5" text-anchor="middle" fill="#222" stroke="#222" stroke-width="0.2">10</text>
<text transform="translate(940.8,455.1) scale(1.15,1)" font-size="11.2" text-anchor="middle" fill="#000" stroke="#000" stroke-width="0.1">6</text>
<text transform="translate(940.8,478.3) scale(1.15,1)" font-size="11.2" text-anchor="middle" fill="#000" stroke="#000" stroke-width="0.1">6</text>
<line x1="940.8" y1="488.0" x2="940.8" y2="491.2" stroke="#1a1a1a" stroke-width="1.3"/>
<text transform="translate(940.8,500.4) scale(1.15,1)" font-size="10.5" text-anchor="middle" fill="#222" stroke="#222" stroke-width="0.2">15</text>
<text transform="translate(1032.9,455.1) scale(1.15,1)" font-size="11.2" text-anchor="middle" fill="#000" stroke="#000" stroke-width="0.1">0</text>
<text transform="translate(1032.9,478.3) scale(1.15,1)" font-size="11.2" text-anchor="middle" fill="#000" stroke="#000" stroke-width="0.1">0</text>
<line x1="1032.9" y1="488.0" x2="1032.9" y2="491.2" stroke="#1a1a1a" stroke-width="1.3"/>
<text transform="translate(1032.9,500.4) scale(1.15,1)" font-size="10.5" text-anchor="middle" fill="#222" stroke="#222" stroke-width="0.2">20</text>
<text x="848.7" y="513.8" font-size="12" text-anchor="middle" fill="#000" stroke="#000" stroke-width="0.1" textLength="31.5" lengthAdjust="spacingAndGlyphs">Time</text>
</svg></body></html>
